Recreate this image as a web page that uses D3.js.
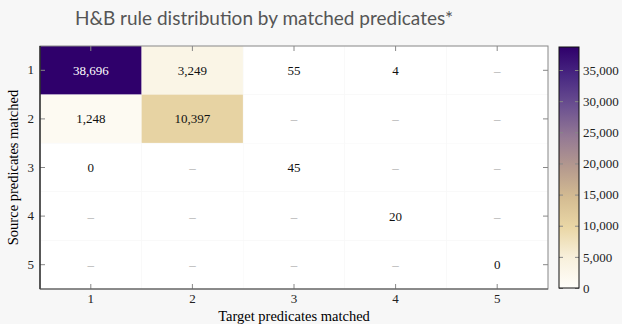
<!DOCTYPE html>
<meta charset="utf-8">
<style>
body { margin: 0; background: #f7f7f7; }
</style>
<body>
<svg width="622" height="324"></svg>
<script src="https://cdn.jsdelivr.net/npm/d3@7"></script>
<script>
var targets = [1, 2, 3, 4, 5];
var sources = [1, 2, 3, 4, 5];
// rows = source predicates matched, columns = target predicates matched (null = no rules)
var counts = [
  [38696, 3249, 55, 4, null],
  [1248, 10397, null, null, null],
  [0, null, 45, null, null],
  [null, null, null, 20, null],
  [null, null, null, null, 0]
];
var colorTicks = [0, 5000, 10000, 15000, 20000, 25000, 30000, 35000];
var colorStops = ["#fffefa", "#f8f0dc", "#ead7a6", "#d4bc92", "#b59a8e", "#957a94", "#6d5291", "#4a2a83", "#2f006b"];

var serif = "'Liberation Serif', 'DejaVu Serif', serif";
var svg = d3.select("svg");
var margin = {top: 46, left: 40, right: 74, bottom: 35};
var width = 548 - margin.left;
var height = 289 - margin.top;

var cells = [];
counts.forEach(function(row, i) {
  row.forEach(function(v, j) {
    cells.push({source: sources[i], target: targets[j], value: v});
  });
});

var maxVal = d3.max(cells, function(d) { return d.value; });
var x = d3.scaleBand().domain(targets).range([0, width]);
var y = d3.scaleBand().domain(sources).range([0, height]);
var color = d3.scaleLinear()
  .domain(colorStops.map(function(c, i) { return i / (colorStops.length - 1) * maxVal; }))
  .range(colorStops);

svg.append("text")
  .attr("x", 264)
  .attr("y", 25)
  .attr("text-anchor", "middle")
  .style("font-family", "Lato, 'Open Sans', sans-serif")
  .style("font-size", "19px")
  .attr("fill", "#555")
  .text("H&B rule distribution by matched predicates*");

var g = svg.append("g")
  .attr("transform", "translate(" + margin.left + "," + margin.top + ")");

g.append("rect")
  .attr("width", width)
  .attr("height", height)
  .attr("fill", "#fff");

g.selectAll(".cell")
  .data(cells)
  .enter().append("rect")
  .attr("class", "cell")
  .attr("x", function(d) { return x(d.target); })
  .attr("y", function(d) { return y(d.source); })
  .attr("width", x.bandwidth())
  .attr("height", y.bandwidth())
  .attr("fill", function(d) { return d.value > 500 ? color(d.value) : "#fff"; })
  .attr("stroke", function(d) { return d.value > 500 ? "none" : "#f7f7f7"; })
  .attr("stroke-width", 0.6);

g.selectAll(".label")
  .data(cells)
  .enter().append("text")
  .attr("class", "label")
  .attr("x", function(d) { return x(d.target) + x.bandwidth() / 2; })
  .attr("y", function(d) { return y(d.source) + y.bandwidth() / 2; })
  .attr("dy", "0.35em")
  .attr("text-anchor", "middle")
  .style("font-family", serif)
  .style("font-size", "13px")
  .attr("fill", function(d) {
    if (d.value === null) return "#aaa";
    return d.value > maxVal * 0.6 ? "#fff" : "#111";
  })
  .text(function(d) { return d.value === null ? "–" : d3.format(",")(d.value); });

// axes with inward ticks on all four sides
function styleAxis(sel) {
  sel.select(".domain").remove();
  sel.selectAll(".tick line").attr("stroke", "#888");
  sel.selectAll(".tick text")
    .style("font-family", serif)
    .style("font-size", "13px")
    .attr("fill", "#222");
}

g.append("g")
  .attr("transform", "translate(0," + height + ")")
  .call(d3.axisBottom(x).tickSizeInner(-5).tickPadding(5))
  .call(styleAxis);
g.append("g")
  .call(d3.axisTop(x).tickSizeInner(-5).tickFormat(""))
  .call(styleAxis);
g.append("g")
  .call(d3.axisLeft(y).tickSizeInner(-5).tickPadding(6))
  .call(styleAxis);
g.append("g")
  .attr("transform", "translate(" + width + ",0)")
  .call(d3.axisRight(y).tickSizeInner(-5).tickFormat(""))
  .call(styleAxis);

g.append("rect")
  .attr("width", width)
  .attr("height", height)
  .attr("fill", "none")
  .attr("stroke", "#888");
g.append("line")
  .attr("x1", 0).attr("x2", 0)
  .attr("y1", 0).attr("y2", height)
  .attr("stroke", "#111")
  .attr("stroke-width", 1.2);
g.append("line")
  .attr("x1", 0).attr("x2", width)
  .attr("y1", height).attr("y2", height)
  .attr("stroke", "#555")
  .attr("stroke-width", 1.2);

g.append("text")
  .attr("x", width / 2)
  .attr("y", height + 32)
  .attr("text-anchor", "middle")
  .style("font-family", serif)
  .style("font-size", "14.5px")
  .text("Target predicates matched");

g.append("text")
  .attr("transform", "rotate(-90)")
  .attr("x", -height / 2)
  .attr("y", -22)
  .attr("text-anchor", "middle")
  .style("font-family", serif)
  .style("font-size", "14.5px")
  .text("Source predicates matched");

// colour bar
var cbX = 559, cbW = 20;
var cbY = d3.scaleLinear().domain([0, maxVal]).range([288, 47]);

var defs = svg.append("defs");
var grad = defs.append("linearGradient")
  .attr("id", "cbgrad")
  .attr("x1", "0").attr("y1", "1").attr("x2", "0").attr("y2", "0");
grad.selectAll("stop")
  .data(colorStops)
  .enter().append("stop")
  .attr("offset", function(d, i) { return i / (colorStops.length - 1); })
  .attr("stop-color", function(d) { return d; });

var cb = svg.append("g").attr("transform", "translate(" + cbX + ",0)");
cb.append("rect")
  .attr("y", cbY(maxVal))
  .attr("width", cbW)
  .attr("height", cbY(0) - cbY(maxVal))
  .attr("fill", "url(#cbgrad)");

cb.append("g")
  .attr("transform", "translate(" + cbW + ",0)")
  .call(d3.axisRight(cbY).tickValues(colorTicks).tickFormat(d3.format(",")).tickSizeInner(-4).tickPadding(4))
  .call(function(sel) {
    sel.select(".domain").remove();
    sel.selectAll(".tick line").attr("stroke", "#888");
    sel.selectAll(".tick text")
      .style("font-family", serif)
      .style("font-size", "13px")
      .attr("fill", "#222");
  });
cb.append("g")
  .call(d3.axisLeft(cbY).tickValues(colorTicks).tickSizeInner(-4).tickFormat(""))
  .call(function(sel) {
    sel.select(".domain").remove();
    sel.selectAll(".tick line").attr("stroke", "#888");
  });

cb.append("rect")
  .attr("y", cbY(maxVal))
  .attr("width", cbW)
  .attr("height", cbY(0) - cbY(maxVal))
  .attr("fill", "none")
  .attr("stroke", "#111");
</script>
</body>
